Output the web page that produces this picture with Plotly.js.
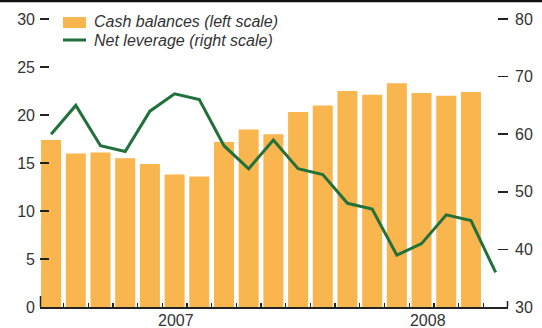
<!DOCTYPE html>
<html>
<head>
<meta charset="utf-8">
<script src="https://cdn.plot.ly/plotly-3.0.1.min.js"></script>
<style>
html,body{margin:0;padding:0;background:#fff;}
#chart{width:542px;height:328px;}
</style>
</head>
<body>
<div id="chart"></div>
<script>
// Period index (one per bar; the line has one extra period at the end)
const barPeriods = [0,1,2,3,4,5,6,7,8,9,10,11,12,13,14,15,16,17];
const linePeriods = [0,1,2,3,4,5,6,7,8,9,10,11,12,13,14,15,16,17,18];
// Cash balances (left scale)
const cashBalances = [17.4,16.0,16.1,15.5,14.9,13.8,13.6,17.2,18.5,18.0,20.3,21.0,22.5,22.1,23.3,22.3,22.0,22.4];
// Net leverage (right scale)
const netLeverage = [60,65,58,57,64,67,66,58,54,59,54,53,48,47,39,41,46,45,36];
// Series names
const seriesNames = ['Cash balances (left scale)','Net leverage (right scale)'];
// Year labels on the time axis, at period index
const yearLabels = ['2007','2008'];
const yearLabelAt = [5.05, 15.25];
// Tick values
const leftTicks = [0,5,10,15,20,25,30];
const rightTicks = [30,40,50,60,70,80];
const periodBoundaries = [0.5,1.5,2.5,3.5,4.5,5.5,6.5,7.5,8.5,9.5,10.5,11.5,12.5,13.5,14.5,15.5,16.5,17.5];

const ORANGE = '#F9B54E';
const GREEN = '#22703A';
const TXT = '#333333';
const FONT = 'Liberation Sans, Arial, sans-serif';
const FS = 16;

const xRange = [-0.45, 18.5];
// plot area is 291px tall; keep 0..30 over 288px so the top ticks sit just inside
const H = 291, K = H/288;

const traces = [
  {
    type:'bar', x: barPeriods, y: cashBalances, name: seriesNames[0],
    marker:{color: ORANGE}, yaxis:'y', xaxis:'x', showlegend:false, hoverinfo:'y'
  },
  {
    type:'scatter', mode:'lines', x: linePeriods, y: netLeverage, name: seriesNames[1],
    line:{color: GREEN, width:3}, yaxis:'y2', xaxis:'x', showlegend:false, hoverinfo:'y'
  }
];

// pixel -> paper helpers (plot area 40..508 x 16..307)
const px = x => (x-40)/468;
const py = y => (307-y)/H;

const layout = {
  width:542, height:328,
  margin:{l:40, r:34, t:16, b:21, pad:0},
  paper_bgcolor:'#fff', plot_bgcolor:'#fff',
  font:{family: FONT, size:FS, color: TXT},
  bargap:0.19,
  xaxis:{
    type:'linear', range:xRange, tickvals: periodBoundaries,
    ticks:'inside', ticklen:4, tickwidth:1.3, tickcolor:'#222',
    showticklabels:false, showgrid:false, zeroline:false,
    showline:true, linecolor:'#222', linewidth:1.5, fixedrange:true
  },
  xaxis2:{
    type:'linear', range:xRange, overlaying:'x', side:'bottom', anchor:'y',
    tickvals: yearLabelAt, ticktext: yearLabels, ticks:'', ticklen:0,
    showgrid:false, zeroline:false, showline:false,
    tickfont:{family:FONT, size:FS, color:TXT}, ticklabelstandoff:2
  },
  yaxis:{
    range:[0,30*K], tickvals: leftTicks, ticks:'inside', ticklen:9, tickwidth:1.5, tickcolor:'#222',
    showgrid:false, zeroline:false, showline:false,
    tickfont:{family:FONT, size:FS, color:TXT}, ticklabelstandoff:4
  },
  yaxis2:{
    range:[30,30+50*K], tickvals: rightTicks, overlaying:'y', side:'right', anchor:'x',
    ticks:'inside', ticklen:10, tickwidth:1.5, tickcolor:'#222',
    showgrid:false, zeroline:false, showline:false,
    tickfont:{family:FONT, size:FS, color:TXT}, ticklabelstandoff:6
  },
  shapes:[
    {type:'line', xref:'paper', yref:'paper', x0:px(0), x1:px(542), y0:py(1), y1:py(1), line:{color:'#111', width:2.5}},
    // end marks of the time axis
    {type:'line', xref:'paper', yref:'paper', x0:px(40.5), x1:px(40.5), y0:py(307), y1:py(296), line:{color:'#222', width:1.5}},
    {type:'line', xref:'paper', yref:'paper', x0:px(507.5), x1:px(507.5), y0:py(307), y1:py(301), line:{color:'#222', width:1.5}},
    // legend keys
    {type:'rect', xref:'paper', yref:'paper', x0:px(63), x1:px(86), y0:py(28), y1:py(17), fillcolor:ORANGE, line:{width:0}},
    {type:'line', xref:'paper', yref:'paper', x0:px(63), x1:px(86), y0:py(40), y1:py(40), line:{color:GREEN, width:3}}
  ],
  annotations:[
    {xref:'paper', yref:'paper', x:px(92), y:py(21), xanchor:'left', yanchor:'middle', showarrow:false,
     text: seriesNames[0], font:{family:FONT, size:FS, color:TXT, style:'italic'}},
    {xref:'paper', yref:'paper', x:px(92), y:py(40), xanchor:'left', yanchor:'middle', showarrow:false,
     text: seriesNames[1], font:{family:FONT, size:FS, color:TXT, style:'italic'}}
  ],
  hovermode:false
};

// attach an empty trace to xaxis2 so its labels render
traces.push({type:'scatter', mode:'none', x:[xRange[0]], y:[0], xaxis:'x2', yaxis:'y', showlegend:false, hoverinfo:'skip'});

Plotly.newPlot('chart', traces, layout, {displayModeBar:false, staticPlot:true});
</script>
</body>
</html>
